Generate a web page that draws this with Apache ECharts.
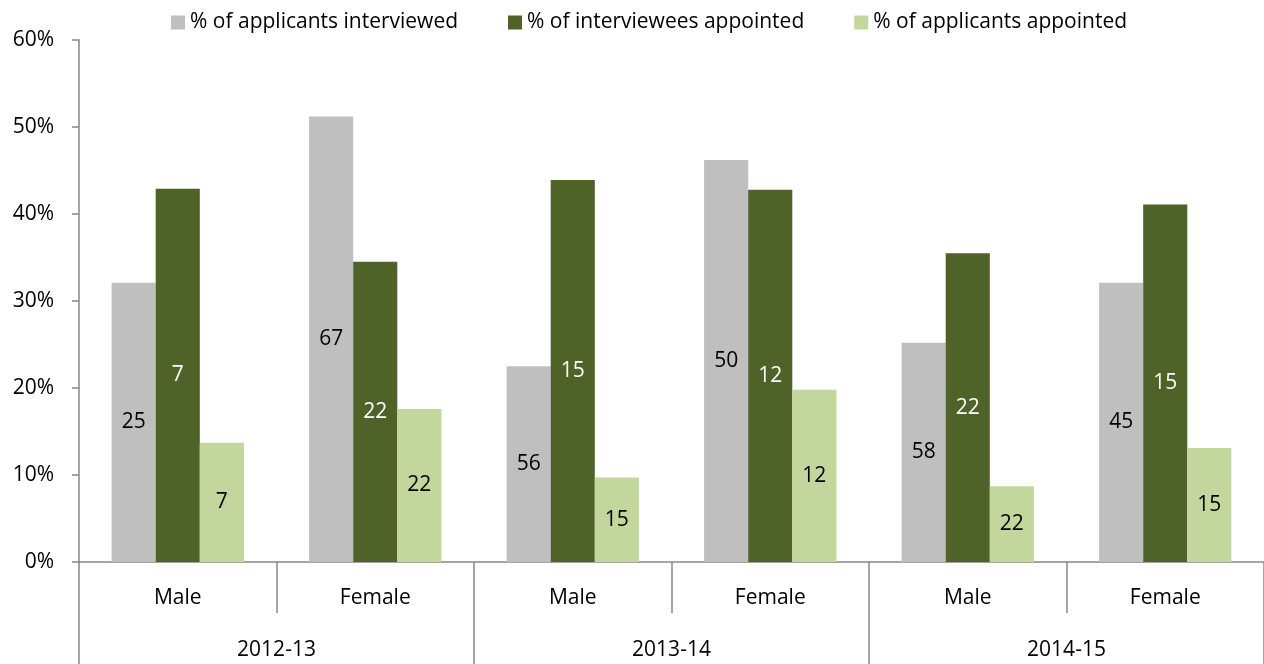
<!DOCTYPE html>
<html lang="en">
<head>
    <meta charset="UTF-8">
    <title>Applicants interviewed and appointed</title>
    <style>
        html, body { margin: 0; padding: 0; background: #fff; }
        #chart { width: 1264px; height: 664px; }
    </style>
</head>
<body>
    <div id="chart"></div>
    <script src="https://cdn.jsdelivr.net/npm/echarts@6/dist/echarts.min.js"></script>
    <script>
// categories
var groups = ['Male', 'Female', 'Male', 'Female', 'Male', 'Female'];
var years = ['2012-13', '2013-14', '2014-15'];
var seriesNames = ['% of applicants interviewed', '% of interviewees appointed', '% of applicants appointed'];

// bar heights (%)
var interviewed = [32.1, 51.2, 22.5, 46.2, 25.2, 32.1];
var intervieweesAppointed = [42.9, 34.5, 43.9, 42.8, 35.5, 41.1];
var applicantsAppointed = [13.7, 17.6, 9.7, 19.8, 8.7, 13.1];

// numbers shown inside bars
var interviewedCounts = [25, 67, 56, 50, 58, 45];
var intervieweesCounts = [7, 22, 15, 12, 22, 15];
var appointedCounts = [7, 22, 15, 12, 22, 15];

var yTicks = [0, 10, 20, 30, 40, 50, 60];

var font = 'Open Sans';

function bar(name, values, counts, color, labelColor) {
    return {
        name: name,
        type: 'bar',
        data: values,
        barGap: '0%',
        barCategoryGap: '33%',
        itemStyle: { color: color },
        label: {
            show: true,
            position: 'inside',
            fontFamily: font,
            fontSize: 21,
            color: labelColor,
            formatter: function (p) { return counts[p.dataIndex]; }
        }
    };
}

var chart = echarts.init(document.getElementById('chart'));
chart.setOption({
    animation: false,
    textStyle: { fontFamily: font },
    legend: {
        top: 7,
        left: 166,
        icon: 'rect',
        itemWidth: 14,
        itemHeight: 14,
        itemGap: 50,
        textStyle: { fontFamily: font, fontSize: 21, color: '#000' },
        data: seriesNames
    },
    grid: { left: 79, right: 0, top: 40, bottom: 102, containLabel: false },
    xAxis: [{
        type: 'category',
        data: groups,
        axisLine: { lineStyle: { color: '#868686', width: 1.5 } },
        axisTick: { show: true, interval: 0, length: 51, lineStyle: { color: '#868686', width: 1.5 } },
        axisLabel: { interval: 0, margin: 26, fontFamily: font, fontSize: 21, color: '#000' }
    }, {
        type: 'category',
        position: 'bottom',
        data: years,
        axisLine: { show: false },
        axisTick: { show: true, interval: 0, length: 102, lineStyle: { color: '#868686', width: 1.5 } },
        axisLabel: { interval: 0, margin: 78, fontFamily: font, fontSize: 21, color: '#000' }
    }],
    yAxis: {
        type: 'value',
        min: yTicks[0],
        max: yTicks[yTicks.length - 1],
        interval: 10,
        splitLine: { show: false },
        axisLine: { show: true, lineStyle: { color: '#868686', width: 1.5 } },
        axisTick: { show: true, length: 7, lineStyle: { color: '#868686', width: 1.5 } },
        axisLabel: { margin: 25, fontFamily: font, fontSize: 21, color: '#000', formatter: '{value}%' }
    },
    series: [
        bar(seriesNames[0], interviewed, interviewedCounts, '#BFBFBF', '#000'),
        bar(seriesNames[1], intervieweesAppointed, intervieweesCounts, '#4F6228', '#fff'),
        bar(seriesNames[2], applicantsAppointed, appointedCounts, '#C3D69B', '#000')
    ]
});
    </script>
</body>
</html>
